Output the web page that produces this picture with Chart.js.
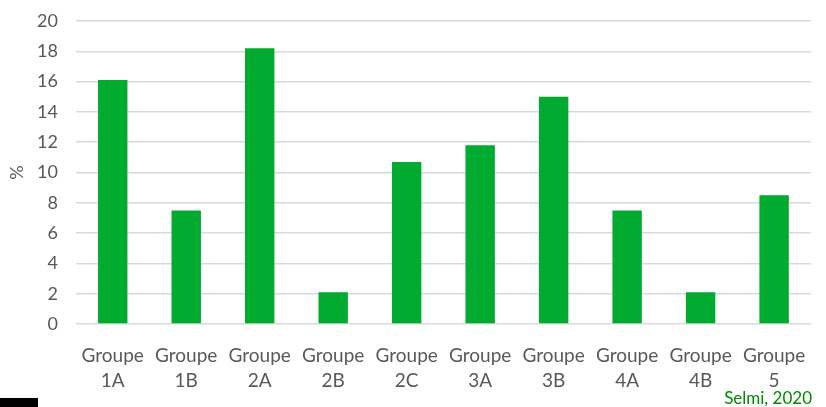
<!DOCTYPE html>
<html>
<head>
<meta charset="utf-8">
<script src="https://cdn.jsdelivr.net/npm/chart.js@4/dist/chart.umd.min.js"></script>
<style>
  html, body { margin: 0; padding: 0; background: #fff; }
  #wrap { width: 826px; height: 407px; position: relative; }
</style>
</head>
<body>
<div id="wrap"><canvas id="chart" width="826" height="407"></canvas></div>
<script>
// categories (two-line labels, as in the source)
const groupes = [
  ['Groupe', '1A'], ['Groupe', '1B'], ['Groupe', '2A'], ['Groupe', '2B'], ['Groupe', '2C'],
  ['Groupe', '3A'], ['Groupe', '3B'], ['Groupe', '4A'], ['Groupe', '4B'], ['Groupe', '5']
];
// percentages
const pourcentages = [16.1, 7.5, 18.2, 2.1, 10.7, 11.8, 15.0, 7.5, 2.1, 8.5];
const yMax = 20;
const yStep = 2;
const source = 'Selmi, 2020';

const grey = '#595959';
const green = '#00AB30';

// source note + little black block at the bottom corners
const notes = {
  id: 'notes',
  afterDraw(chart) {
    const ctx = chart.ctx;
    ctx.save();
    ctx.fillStyle = '#000';
    ctx.fillRect(0, 398, 38, 9);
    ctx.fillStyle = '#008A00';
    ctx.font = '17px Lato';
    ctx.textAlign = 'right';
    ctx.textBaseline = 'alphabetic';
    ctx.fillText(source, 812, 404);
    ctx.restore();
  }
};

new Chart(document.getElementById('chart').getContext('2d'), {
  type: 'bar',
  data: {
    labels: groupes,
    datasets: [{
      data: pourcentages,
      backgroundColor: green,
      borderWidth: 0,
      barPercentage: 0.4,
      categoryPercentage: 1.0
    }]
  },
  options: {
    responsive: false,
    animation: false,
    layout: { autoPadding: false, padding: { top: 21, right: 15, bottom: 0, left: 0 } },
    plugins: {
      legend: { display: false },
      tooltip: { enabled: false }
    },
    scales: {
      x: {
        afterFit(scale) { scale.height = 83; },
        grid: { display: false, drawTicks: false },
        border: { display: false },
        ticks: {
          color: grey,
          font: { family: 'Lato', size: 19, lineHeight: 1.3 },
          padding: 20,
          maxRotation: 0,
          autoSkip: false
        }
      },
      y: {
        afterFit(scale) {
          scale.width = 76;
          scale.paddingTop = 0;
          scale.paddingBottom = 0;
        },
        min: 0,
        max: yMax,
        grid: { color: '#D9D9D9', lineWidth: 1.5, drawTicks: false },
        border: { display: false },
        ticks: {
          stepSize: yStep,
          color: grey,
          font: { family: 'Lato', size: 18 },
          padding: 18
        },
        title: {
          display: true,
          text: '%',
          color: grey,
          font: { family: 'Lato', size: 18 },
          padding: 6
        }
      }
    }
  },
  plugins: [notes]
});
</script>
</body>
</html>
